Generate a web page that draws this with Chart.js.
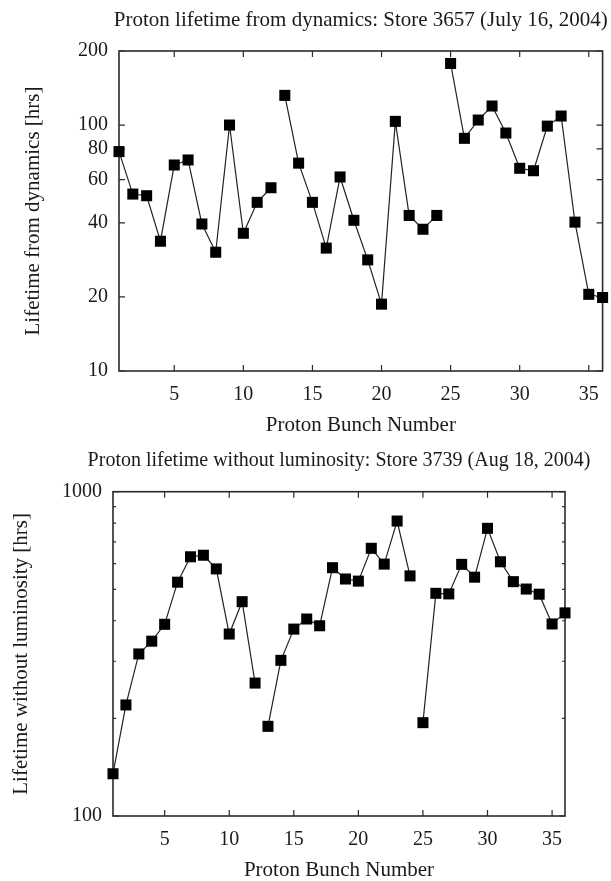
<!DOCTYPE html>
<html>
<head>
<meta charset="utf-8">
<script src="https://cdn.jsdelivr.net/npm/chart.js@4/dist/chart.umd.min.js"></script>
<style>
html, body { margin: 0; padding: 0; background: #ffffff; }
#wrap { position: relative; width: 611px; height: 881px; overflow: hidden; background: #ffffff; }
canvas { position: absolute; left: 0; }
#c1 { top: 0; }
#c2 { top: 440px; }
</style>
</head>
<body>
<div id="wrap">
  <canvas id="c1" width="611" height="445"></canvas>
  <canvas id="c2" width="611" height="441"></canvas>
</div>
<script>
// ---------------- data ----------------
const bunchNumbers = [1, 2, 3, 4, 5, 6, 7, 8, 9, 10, 11, 12,
                      13, 14, 15, 16, 17, 18, 19, 20, 21, 22, 23, 24,
                      25, 26, 27, 28, 29, 30, 31, 32, 33, 34, 35, 36];

// Store 3657 (July 16, 2004): lifetime from dynamics [hrs]
const lifetimeFromDynamics = [78, 52.4, 51.6, 33.7, 68.8, 72.1, 39.6, 30.4, 100, 36.3, 48.5, 55.6,
                              132, 70, 48.5, 31.6, 61.5, 41, 28.3, 18.7, 103.5, 42.9, 37.7, 42.9,
                              178, 88.3, 104.8, 119.5, 92.8, 66.7, 65.2, 99, 108.8, 40.3, 20.5, 19.9];

// Store 3739 (Aug 18, 2004): lifetime without luminosity [hrs]
const lifetimeWithoutLumi = [135, 220, 316, 346, 390, 526, 630, 637, 578, 364, 458, 257,
                             189, 302, 377, 405, 386, 583, 538, 530, 669, 598, 812, 550,
                             194, 486, 484, 597, 545, 771, 608, 528, 501, 483, 391, 423];

const trainLastBunches = [12, 24];           // no line joins one train to the next
const xTickValues = [5, 10, 15, 20, 25, 30, 35];
const yTicksTop = [10, 20, 40, 60, 80, 100, 200];
const yTicksBottom = [100, 1000];
const yMinorTicksBottom = [200, 300, 400, 500, 600, 700, 800, 900];

const titleTop = 'Proton lifetime from dynamics: Store 3657 (July 16, 2004)';
const titleBottom = 'Proton lifetime without luminosity: Store 3739 (Aug 18, 2004)';
const yTitleTop = 'Lifetime from dynamics [hrs]';
const yTitleBottom = 'Lifetime without luminosity [hrs]';
const xTitle = 'Proton Bunch Number';

// ---------------- style ----------------
const FAMILY = '"Liberation Serif", "DejaVu Serif", serif';
const TEXT = '#1a1a1a';
const tickFont = { family: FAMILY, size: 20 };
const titleFont = { family: FAMILY, size: 21 };

const framePlugin = {
  id: 'frameTicks',
  beforeDatasetsDraw(chart, args, opts) {
    const { ctx, chartArea: a, scales } = chart;
    const x = scales.x, y = scales.y;
    ctx.save();
    ctx.strokeStyle = '#2b2b2b';
    ctx.lineWidth = 1.2;
    ctx.beginPath();
    const major = 6, minor = 3;
    x.ticks.forEach(t => {
      const px = x.getPixelForValue(t.value);
      ctx.moveTo(px, a.bottom); ctx.lineTo(px, a.bottom - major);
      ctx.moveTo(px, a.top); ctx.lineTo(px, a.top + major);
    });
    y.ticks.forEach(t => {
      const py = y.getPixelForValue(t.value);
      ctx.moveTo(a.left, py); ctx.lineTo(a.left + major, py);
      ctx.moveTo(a.right, py); ctx.lineTo(a.right - major, py);
    });
    (opts.minor || []).forEach(v => {
      const py = y.getPixelForValue(v);
      ctx.moveTo(a.left, py); ctx.lineTo(a.left + minor, py);
      ctx.moveTo(a.right, py); ctx.lineTo(a.right - minor, py);
    });
    ctx.stroke();
    ctx.lineWidth = 1.6;
    ctx.strokeRect(a.left, a.top, a.right - a.left, a.bottom - a.top);
    ctx.restore();
  },
  afterDraw(chart, args, opts) {
    if (!opts.title) return;
    const { ctx, chartArea: a } = chart;
    ctx.save();
    ctx.font = opts.titleSize + 'px ' + FAMILY;
    ctx.fillStyle = TEXT;
    ctx.textAlign = 'center';
    ctx.textBaseline = 'middle';
    ctx.fillText(opts.title, (a.left + a.right) / 2, opts.titleY);
    ctx.restore();
  }
};

function makeChart(canvasId, values, cfg) {
  const points = bunchNumbers.map((b, i) => ({ x: b, y: values[i] }));
  return new Chart(document.getElementById(canvasId), {
    type: 'line',
    data: {
      datasets: [{
        data: points,
        borderColor: '#222222',
        borderWidth: 1.2,
        pointStyle: 'rect',
        pointRadius: 7.8,
        pointBackgroundColor: '#000000',
        pointBorderColor: '#000000',
        pointBorderWidth: 0,
        tension: 0,
        fill: false,
        clip: false,
        segment: {
          borderColor: c => trainLastBunches.includes(c.p0.parsed.x) ? 'rgba(0,0,0,0)' : '#222222'
        }
      }]
    },
    plugins: [framePlugin],
    options: {
      responsive: false,
      animation: false,
      devicePixelRatio: 1,
      layout: { padding: cfg.padding },
      plugins: {
        legend: { display: false },
        tooltip: { enabled: false },
        title: { display: false },
        frameTicks: { minor: cfg.minor, title: cfg.title, titleY: cfg.titleY, titleSize: cfg.titleSize }
      },
      scales: {
        x: {
          type: 'linear',
          min: 1,
          max: 36,
          afterBuildTicks: s => { s.ticks = xTickValues.map(v => ({ value: v })); },
          afterFit: s => { s.height = cfg.xHeight; },
          grid: { display: false, drawTicks: false, tickLength: 0 },
          border: { display: false },
          ticks: { font: tickFont, color: TEXT, padding: 12, autoSkip: false, maxRotation: 0,
                   callback: v => String(v) },
          title: { display: true, text: xTitle, font: titleFont, color: TEXT,
                   padding: { top: 0, bottom: cfg.xTitlePad } }
        },
        y: {
          type: 'logarithmic',
          min: cfg.yMin,
          max: cfg.yMax,
          afterBuildTicks: s => { s.ticks = cfg.yTicks.map(v => ({ value: v })); },
          afterFit: s => { s.width = cfg.yWidth; },
          grid: { display: false, drawTicks: false, tickLength: 0 },
          border: { display: false },
          ticks: { font: tickFont, color: TEXT, padding: 11, autoSkip: false,
                   callback: v => String(v) },
          title: { display: true, text: cfg.yTitle, font: titleFont, color: TEXT,
                   padding: { top: cfg.yTitlePad, bottom: 0 } }
        }
      }
    }
  });
}

makeChart('c1', lifetimeFromDynamics, {
  padding: { top: 51, left: 0, right: 5, bottom: 0 },
  yWidth: 119, xHeight: 74, xTitlePad: 7.4, yTitlePad: 20.4,
  yMin: 10, yMax: 200, yTicks: yTicksTop, minor: [],
  yTitle: yTitleTop, title: titleTop, titleY: 20, titleSize: 21
});

makeChart('c2', lifetimeWithoutLumi, {
  padding: { top: 51.7, left: 0, right: 46, bottom: 0 },
  yWidth: 113, xHeight: 65, xTitlePad: -2.5, yTitlePad: 8.4,
  yMin: 100, yMax: 1000, yTicks: yTicksBottom, minor: yMinorTicksBottom,
  yTitle: yTitleBottom, title: titleBottom, titleY: 21, titleSize: 20
});
</script>
</body>
</html>
